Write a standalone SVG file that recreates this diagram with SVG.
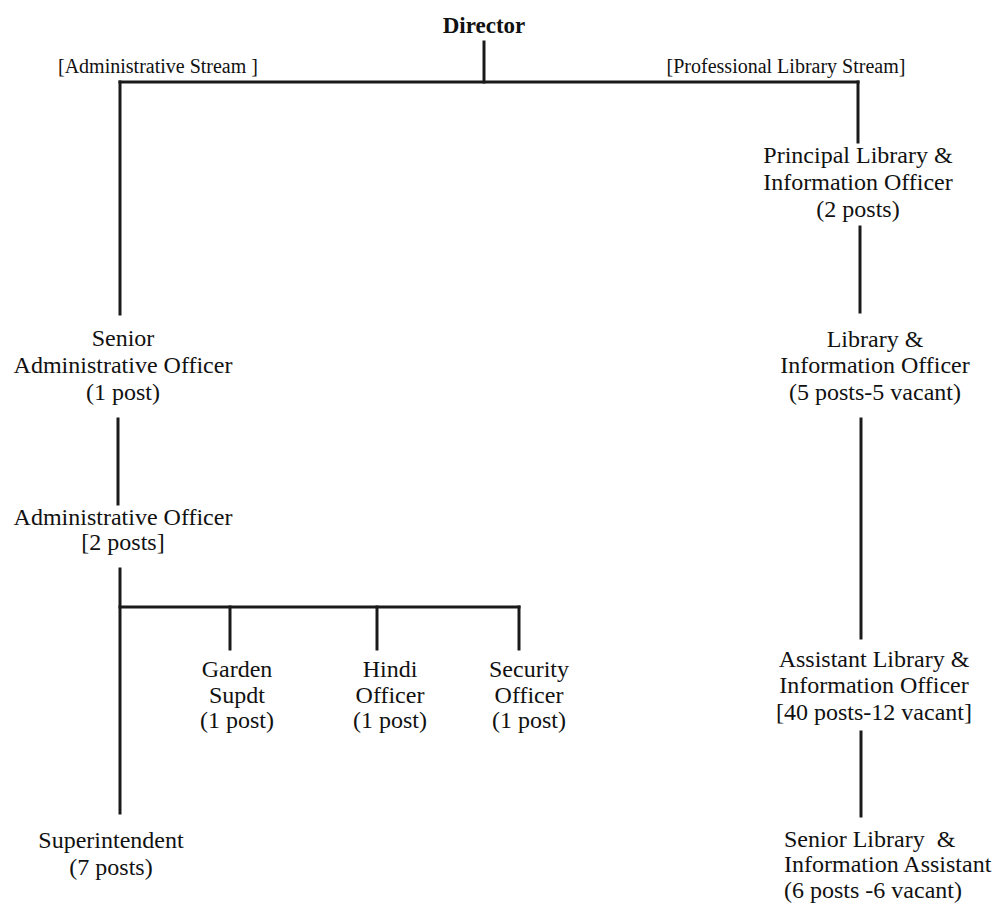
<svg xmlns="http://www.w3.org/2000/svg" width="999" height="905" viewBox="0 0 999 905">
<style>
text{font-family:"Liberation Serif","Times New Roman",serif;fill:#111;font-size:24px;text-anchor:middle}
.title{font-weight:bold;font-size:23px}
.stream{font-size:20px}
.left{text-anchor:start}
.conn line{stroke:#1a1a1a;stroke-width:3;stroke-linecap:square}
</style>
<rect width="999" height="905" fill="#fff"/>
<g id="director"><text class="title" x="484" y="33">Director</text></g>
<g id="admin-stream"><text class="stream" x="158" y="73">[Administrative Stream ]</text></g>
<g id="prof-stream"><text class="stream" x="786" y="73">[Professional Library Stream]</text></g>
<g id="principal-lio">
<text x="858" y="163">Principal Library &amp;</text>
<text x="858" y="190">Information Officer</text>
<text x="858" y="217">(2 posts)</text>
</g>
<g id="lio">
<text x="875" y="347">Library &amp;</text>
<text x="875" y="373">Information Officer</text>
<text x="875" y="400">(5 posts-5 vacant)</text>
</g>
<g id="alio">
<text x="874" y="667">Assistant Library &amp;</text>
<text x="874" y="693">Information Officer</text>
<text x="874" y="720">[40 posts-12 vacant]</text>
</g>
<g id="slia">
<text class="left" x="784" y="847" xml:space="preserve">Senior Library  &amp;</text>
<text class="left" x="784" y="872">Information Assistant</text>
<text class="left" x="784" y="898">(6 posts -6 vacant)</text>
</g>
<g id="sao">
<text x="123" y="346">Senior</text>
<text x="123" y="373">Administrative Officer</text>
<text x="123" y="400">(1 post)</text>
</g>
<g id="ao">
<text x="123" y="525">Administrative Officer</text>
<text x="123" y="550">[2 posts]</text>
</g>
<g id="garden">
<text x="237" y="677">Garden</text>
<text x="237" y="703">Supdt</text>
<text x="237" y="728">(1 post)</text>
</g>
<g id="hindi">
<text x="390" y="677">Hindi</text>
<text x="390" y="703">Officer</text>
<text x="390" y="728">(1 post)</text>
</g>
<g id="security">
<text x="529" y="677">Security</text>
<text x="529" y="703">Officer</text>
<text x="529" y="728">(1 post)</text>
</g>
<g id="superintendent">
<text x="111" y="848">Superintendent</text>
<text x="111" y="875">(7 posts)</text>
</g>
<g id="connectors" class="conn">
<line x1="484" y1="42" x2="484" y2="82"/>
<line x1="120" y1="82" x2="858" y2="82"/>
<line x1="120" y1="82" x2="120" y2="314"/>
<line x1="858" y1="82" x2="858" y2="142"/>
<line x1="860" y1="227" x2="860" y2="312"/>
<line x1="861" y1="419" x2="861" y2="638"/>
<line x1="861" y1="732" x2="861" y2="816"/>
<line x1="118" y1="419" x2="118" y2="504"/>
<line x1="120" y1="569" x2="120" y2="813"/>
<line x1="120" y1="607" x2="519" y2="607"/>
<line x1="230" y1="607" x2="230" y2="649"/>
<line x1="377" y1="607" x2="377" y2="649"/>
<line x1="519" y1="607" x2="519" y2="649"/>
</g>
</svg>
